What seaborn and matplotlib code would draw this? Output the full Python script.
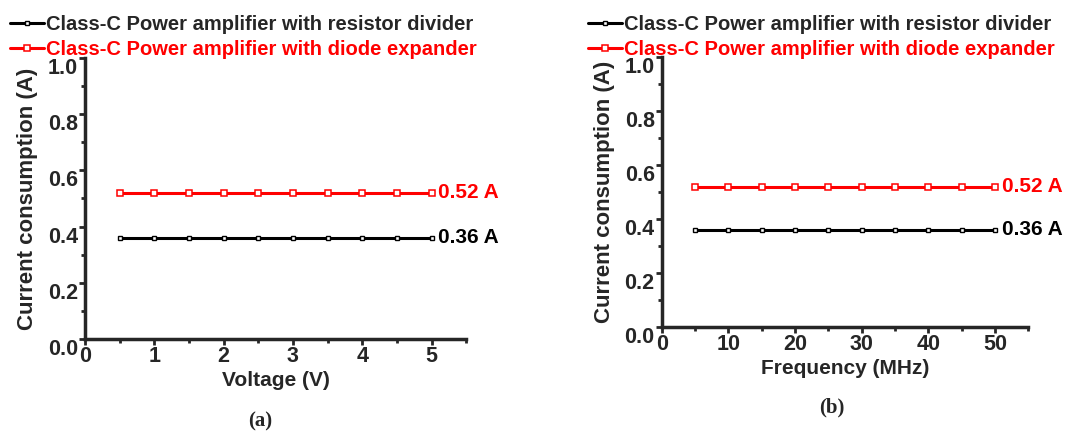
import pandas as pd
import matplotlib.pyplot as plt
import seaborn as sns

# Data
voltage = [0.5, 1.0, 1.5, 2.0, 2.5, 3.0, 3.5, 4.0, 4.5, 5.0]
frequency = [5, 10, 15, 20, 25, 30, 35, 40, 45, 50]
resistor_current = [0.36] * 10
diode_current = [0.52] * 10

label_res = "Class-C Power amplifier with resistor divider"
label_diode = "Class-C Power amplifier with diode expander"

sns.set_style("ticks")
plt.rcParams["font.family"] = ["Liberation Sans", "DejaVu Sans"]
plt.rcParams["font.weight"] = "bold"

fig = plt.figure(figsize=(10.75, 4.34), dpi=100)
ax_a = fig.add_axes([0.0791, 0.2189, 0.3546, 0.6475])
ax_b = fig.add_axes([0.6155, 0.2465, 0.3412, 0.622])

panels = [
    (ax_a, voltage, "Voltage (V)", (0, 5.5), [0, 1, 2, 3, 4, 5], 0.5, "(a)", 0.0093, 0.242, 0.028),
    (ax_b, frequency, "Frequency (MHz)", (0, 55), [0, 10, 20, 30, 40, 50], 5, "(b)", 0.547, 0.774, 0.062),
]

for ax, xs, xlabel, xlim, xticks, minor, tag, leg_x, tag_x, tag_y in panels:
    df = pd.DataFrame({"x": xs, "res": resistor_current, "diode": diode_current})
    sns.lineplot(data=df, x="x", y="res", ax=ax, color="black", lw=2.2,
                 marker="s", markersize=3, markerfacecolor="white",
                 markeredgecolor="black", markeredgewidth=1.0, label=label_res)
    sns.lineplot(data=df, x="x", y="diode", ax=ax, color="red", lw=2.2,
                 marker="s", markersize=4.8, markerfacecolor="white",
                 markeredgecolor="red", markeredgewidth=1.1, label=label_diode)

    ax.set_xlim(*xlim)
    ax.set_ylim(0, 1.0)
    ax.set_xticks(xticks)
    ax.set_xticks([t + minor for t in xticks], minor=True)
    ax.set_yticks([0.0, 0.2, 0.4, 0.6, 0.8, 1.0])
    ax.set_yticks([0.1, 0.3, 0.5, 0.7, 0.9], minor=True)
    ax.set_yticklabels(["0.0", "0.2", "0.4", "0.6", "0.8", "1.0"])
    for lbl in ax.get_yticklabels():
        lbl.set_verticalalignment("top")
    ax.tick_params(axis="both", which="major", length=4, width=2, labelsize=15.5)
    ax.tick_params(axis="y", which="major", pad=1)
    ax.tick_params(axis="x", which="major", pad=1)
    ax.tick_params(axis="both", which="minor", length=3, width=2)
    sns.despine(ax=ax)
    for sp in ["left", "bottom"]:
        ax.spines[sp].set_linewidth(2.5)

    ax.set_xlabel(xlabel, fontsize=15, fontweight="bold", labelpad=3)
    ax.set_ylabel("Current consumption (A)", fontsize=16, fontweight="bold", labelpad=7)

    ax.text(xs[-1] + xlim[1] * 0.018, diode_current[-1], "0.52 A", color="red",
            fontsize=15, fontweight="bold", va="center", ha="left")
    ax.text(xs[-1] + xlim[1] * 0.018, resistor_current[-1], "0.36 A", color="black",
            fontsize=15, fontweight="bold", va="center", ha="left")

    leg = ax.legend(loc="upper left", bbox_to_anchor=(leg_x, 0.966),
                    bbox_transform=fig.transFigure, frameon=False, fontsize=14.5,
                    handlelength=1.7, handletextpad=0.1, labelspacing=0.3,
                    borderaxespad=0, borderpad=0)
    leg.get_texts()[1].set_color("red")

    fig.text(tag_x, tag_y, tag, fontsize=15, fontweight="bold",
             family=["Liberation Serif", "DejaVu Serif"], ha="center", va="center")

fig.savefig("out.png", dpi=100)
